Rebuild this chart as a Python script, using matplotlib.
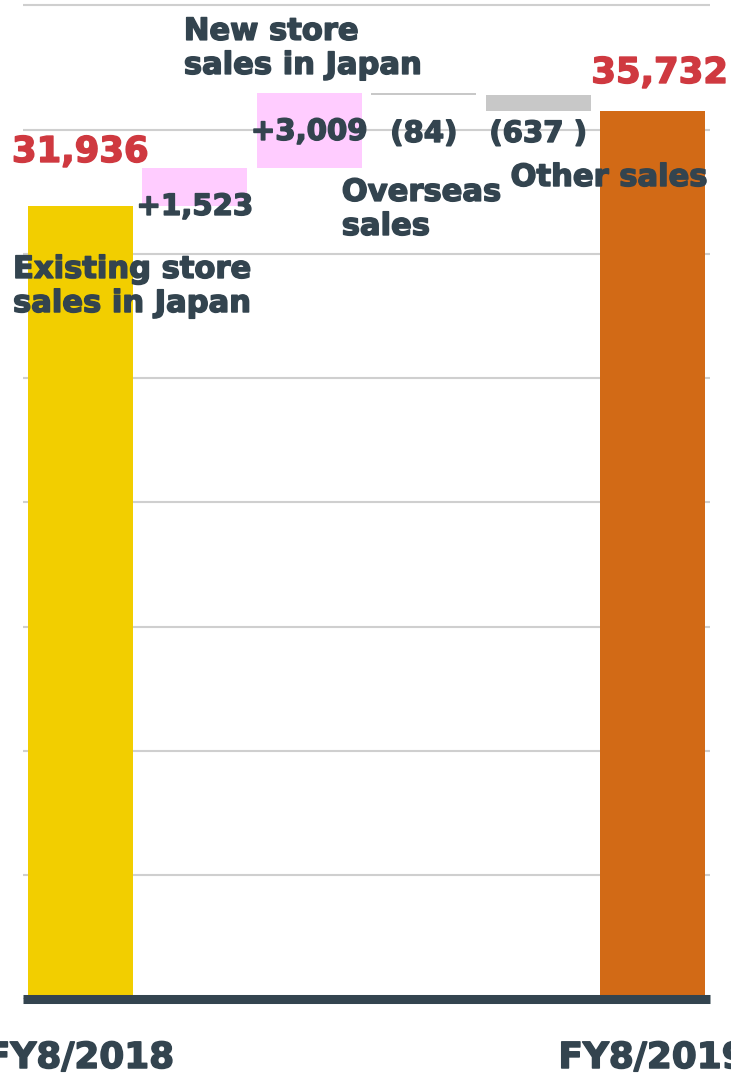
import numpy as np
import matplotlib
matplotlib.use('Agg')
import matplotlib.pyplot as plt
import matplotlib.patheffects as pe

plt.rcParams['font.family'] = ['DejaVu Sans']
plt.rcParams['font.weight'] = 'bold'

# sales bridge FY8/2018 -> FY8/2019
years = ['FY8/2018', 'FY8/2019']
start_value = 31936
end_value = 35732
steps = ['Existing store\nsales in Japan', 'New store\nsales in Japan', 'Overseas\nsales', 'Other sales']
changes = [1523, 3009, -84, -637]
change_labels = ['+1,523', '+3,009', '(84)', '(637 )']

dark = '#33444f'
red = '#cf3940'
step_colors = ['#ffccff', '#ffccff', '#c8c8c8', '#c8c8c8']

# floating bars
level = start_value
bottoms = []
heights = []
for c in changes:
    if c >= 0:
        bottoms.append(level)
    else:
        bottoms.append(level + c)
    heights.append(abs(c))
    level += c

fig = plt.figure(figsize=(7.31, 10.74), dpi=100)
ax = fig.add_axes([23/731, 0.0694, 687/731, 0.9302])

w = 0.92
ax.bar(0, start_value, width=w, color='#f2ce00')
ax.bar(np.arange(1, 5), heights, bottom=bottoms, width=w, color=step_colors)
ax.bar(5, end_value, width=w, color='#d26a16')

ax.set_xlim(-0.5, 5.5)
ax.set_ylim(0, 40200)
ax.set_yticks(np.arange(0, 40001, 5000))
ax.set_yticklabels([])
ax.set_xticks([])
ax.tick_params(length=0)
ax.grid(axis='y', color='#cfcfcf', linewidth=1.5)
ax.set_axisbelow(True)
for s in ['left', 'right', 'top']:
    ax.spines[s].set_visible(False)
ax.spines['bottom'].set_color(dark)
ax.spines['bottom'].set_linewidth(6.5)
ax.spines['bottom'].set_capstyle('butt')
ax.spines['bottom'].set_zorder(3)

# heavier lettering
def heavy(col):
    return [pe.withStroke(linewidth=1.1, foreground=col)]

# totals
ax.text(0, start_value + 1766, f'{start_value:,}', ha='center', va='baseline',
        color=red, fontsize=25.5, fontweight='bold', clip_on=False,
        path_effects=heavy(red))
ax.text(5.06, end_value + 1149, f'{end_value:,}', ha='center', va='baseline',
        color=red, fontsize=25.5, fontweight='bold', clip_on=False,
        path_effects=heavy(red))

# step values
value_y = [31570, 34588, 34507, 34507]
for i, (lab, y) in enumerate(zip(change_labels, value_y)):
    ax.text(i + 1, y, lab, ha='center', va='baseline', color=dark,
            fontsize=21, fontweight='bold', zorder=4, path_effects=heavy(dark))

# step names
name_pos = [(-0.587, 29960), (0.905, 39540), (2.284, 33060), (3.758, 33660)]
for name, (x, y) in zip(steps, name_pos):
    ax.text(x, y, name, ha='left', va='top', color=dark, fontsize=22,
            fontweight='bold', linespacing=1.22, zorder=4, clip_on=False,
            path_effects=heavy(dark))

# year labels
for x, yr in zip([0, 5], years):
    ax.text(x, -2757, yr, ha='center', va='baseline', color=dark,
            fontsize=25.8, fontweight='bold', clip_on=False,
            path_effects=heavy(dark))

fig.savefig('out.png', dpi=100)
